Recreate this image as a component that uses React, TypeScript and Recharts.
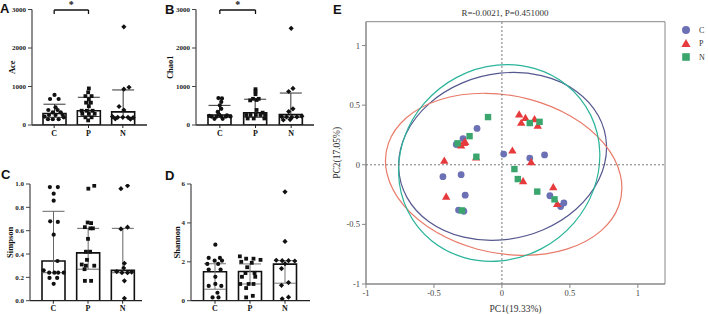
import React from 'react';
import * as RC from 'recharts';
import {
  ComposedChart,
  ScatterChart,
  Bar,
  ErrorBar,
  Scatter,
  XAxis,
  YAxis,
  ReferenceLine,
  ReferenceArea,
  ReferenceDot,
  Customized,
} from 'recharts';

const serif = '"Liberation Serif", "Times New Roman", serif';
const sans = '"Liberation Sans", Arial, sans-serif';

const groups = ['C', 'P', 'N'];

// ---- A: Ace ----
const aceMedian = [300, 370, 340];
const aceLow = [200, 220, 200];
const aceHigh = [540, 720, 910];
const aceC = [780, 675, 675, 460, 390, 390, 330, 330, 260, 260, 260, 150, 150, 150, 200, 220];
const aceCJit = [0.01, -0.12, 0.13, 0.04, -0.17, 0.1, -0.04, 0.19, -0.15, 0.04, 0.25, -0.18, -0.04, 0.13, 0.28, -0.28];
const aceP = [950, 850, 750, 750, 670, 580, 580, 490, 370, 370, 370, 290, 290, 290, 200, 200, 120];
const acePJit = [0.01, -0.01, -0.09, 0.09, 0.01, -0.07, 0.07, 0.01, -0.2, -0.05, 0.12, -0.18, 0.01, 0.18, -0.09, 0.09, -0.01];
const aceN = [2550, 980, 930, 480, 390, 220, 200, 200, 200, 190, 160, 150];
const aceNJit = [0.03, 0.18, 0.03, -0.11, 0.03, -0.3, -0.15, 0.0, 0.15, 0.3, -0.22, 0.22];

// ---- B: Chao1 ----
const chaoMedian = [260, 320, 270];
const chaoLow = [200, 200, 200];
const chaoHigh = [510, 670, 830];
const chaoC = [700, 690, 600, 510, 420, 340, 270, 220, 220, 220, 220, 220, 160, 160, 250, 240];
const chaoCJit = [-0.04, 0.06, 0.04, 0.0, 0.04, -0.06, -0.02, -0.23, -0.09, 0.04, 0.17, 0.3, -0.15, 0.08, 0.2, -0.3];
const chaoP = [930, 870, 800, 680, 680, 650, 640, 390, 320, 260, 260, 260, 260, 260, 170, 170, 170];
const chaoPJit = [0, 0, 0, -0.07, 0.09, 0.03, -0.15, 0.03, 0.2, -0.26, -0.14, 0.01, 0.14, 0.27, -0.22, -0.05, 0.25];
const chaoN = [2510, 950, 870, 420, 350, 220, 210, 200, 210, 230, 130, 140];
const chaoNJit = [0, 0.05, -0.07, 0.05, -0.07, -0.27, -0.13, 0.02, 0.16, 0.3, -0.22, -0.03];

// ---- C: Simpson ----
const simpMedian = [0.34, 0.41, 0.26];
const simpLow = [0.24, 0.27, 0.24];
const simpHigh = [0.766, 0.62, 0.62];
const simpC = [0.974, 0.974, 0.917, 0.857, 0.68, 0.675, 0.566, 0.34, 0.26, 0.24, 0.24, 0.24, 0.24, 0.195, 0.195, 0.145];
const simpCJit = [-0.1, 0.13, 0.01, 0.01, -0.09, 0.13, 0.01, 0.12, -0.28, 0.14, -0.12, 0.03, 0.3, -0.11, 0.11, 0.01];
const simpP = [0.96, 0.985, 0.67, 0.665, 0.63, 0.62, 0.62, 0.53, 0.42, 0.42, 0.35, 0.31, 0.3, 0.3, 0.27, 0.17, 0.17];
const simpPJit = [0.01, 0.18, -0.01, 0.09, -0.09, 0.07, 0.14, 0.0, -0.06, 0.06, -0.03, -0.18, -0.06, 0.18, -0.1, -0.09, 0.09];
const simpN = [0.96, 0.985, 0.615, 0.63, 0.32, 0.28, 0.25, 0.24, 0.24, 0.245, 0.17, 0.02];
const simpNJit = [-0.05, 0.14, -0.05, 0.14, 0.05, 0.03, -0.17, -0.02, 0.14, 0.26, 0.05, 0.05];

// ---- D: Shannon ----
const shanMedian = [1.49, 1.5, 1.88];
const shanLow = [0.59, 0.86, 0.9];
const shanHigh = [1.9, 1.89, 2.06];
const shanC = [2.88, 2.2, 2.2, 2.06, 2.06, 1.89, 1.89, 1.6, 1.6, 1.23, 0.86, 0.76, 0.76, 0.41, 0.17, 0.17];
const shanCJit = [0.01, -0.18, 0.14, -0.01, 0.2, -0.22, 0.09, -0.18, 0.16, 0.01, 0.01, -0.18, 0.18, 0.07, -0.07, 0.1];
const shanP = [2.28, 2.16, 2.16, 2.1, 2.0, 1.95, 1.72, 1.42, 1.42, 1.23, 1.23, 0.86, 0.86, 0.86, 0.65, 0.17, 0.25];
const shanPJit = [-0.29, -0.11, 0.1, 0.3, -0.25, 0.05, -0.08, -0.13, 0.13, -0.23, 0.15, -0.28, -0.04, 0.1, -0.11, -0.11, 0.08];
const shanN = [5.6, 3.05, 2.08, 2.06, 2.06, 2.04, 1.9, 1.65, 0.93, 0.79, 0.18, 0.1];
const shanNJit = [0, 0, -0.25, -0.08, 0.1, 0.28, 0.0, -0.1, 0.1, -0.1, 0.1, -0.08];

// ---- E: PCoA ----
const pcaCX = [-0.183, -0.286, -0.336, 0.013, 0.205, 0.314, -0.434, -0.3, -0.27, -0.319, -0.28, 0.353, 0.456, 0.432];
const pcaCY = [0.305, 0.22, 0.17, 0.09, 0.056, 0.083, -0.1, -0.083, -0.255, -0.38, -0.39, -0.26, -0.32, -0.35];
const pcaPX = [0.127, 0.173, 0.142, 0.24, 0.264, -0.28, -0.27, -0.3, 0.077, -0.424, 0.215, 0.156, 0.378, -0.41, 0.407, -0.19];
const pcaPY = [0.42, 0.39, 0.35, 0.38, 0.325, 0.18, 0.19, 0.16, 0.117, 0.033, 0.02, -0.14, -0.19, -0.27, -0.33, 0.06];
const pcaNX = [-0.102, -0.238, -0.326, -0.188, 0.205, 0.277, 0.092, 0.117, 0.26, 0.387, -0.294];
const pcaNY = [0.4, 0.24, 0.18, 0.067, 0.35, 0.36, -0.036, -0.12, -0.225, -0.29, -0.383];

// confidence ellipses: centre, semi-axes, rotation (deg, data space)
const ellipseCenterX = [0.005, 0.013, -0.02];
const ellipseCenterY = [0.07, -0.08, 0.015];
const ellipseA = [0.783, 0.887, 0.834];
const ellipseB = [0.684, 0.657, 0.73];
const ellipseAngle = [26, -17, 72];

const pcaTicks = [-1, -0.5, 0, 0.5, 1];
const pcaDomain: [number, number] = [-1, 1.2];

const pointColors = ['#6c71b5', '#e63a3c', '#3aa66e'];
const ellipseColors = ['#55588f', '#e87a69', '#2bb49a'];

const sideLabel = (text: string, x: number, size: number, bold: boolean, color: string) => (props: any) => {
  const vb = props.viewBox || {};
  const px = (vb.x ?? 0) + x;
  const cy = (vb.y ?? 0) + (vb.height ?? 0) / 2;
  return (
    <text
      x={px}
      y={cy}
      transform={`rotate(-90 ${px} ${cy})`}
      textAnchor="middle"
      dominantBaseline="central"
      fontFamily={serif}
      fontSize={size}
      fontWeight={bold ? 'bold' : 'normal'}
      fill={color}
    >
      {text}
    </text>
  );
};

const blackCircle = (p: any) => <circle cx={p.cx} cy={p.cy} r={2.1} fill="#111" />;
const blackSquare = (p: any) => <rect x={p.cx - 1.9} y={p.cy - 1.9} width={3.8} height={3.8} fill="#111" />;
const blackDiamond = (p: any) => (
  <polygon points={`${p.cx},${p.cy - 2.6} ${p.cx + 2.6},${p.cy} ${p.cx},${p.cy + 2.6} ${p.cx - 2.6},${p.cy}`} fill="#111" />
);
const dotShapes = [blackCircle, blackSquare, blackDiamond];

type PanelProps = {
  yLabel: string;
  labelX: number;
  left: number;
  top: number;
  width: number;
  height: number;
  axisWidth: number;
  marginTop: number;
  marginRight: number;
  xAxisHeight: number;
  padL: number;
  padR: number;
  yDomain: [number, number];
  yTicks: number[];
  tickFmt?: (v: number) => string;
  median: number[];
  low: number[];
  high: number[];
  dots: number[][];
  jitter: number[][];
  whisker: string;
  bracket?: [number, number, number];
};

function DotPanel(p: PanelProps) {
  const barData = groups.map((g, i) => ({
    name: g,
    value: p.median[i],
    err: [p.median[i] - p.low[i], p.high[i] - p.median[i]],
  }));
  return (
    <div style={{ position: 'absolute', left: p.left, top: p.top }}>
      <ComposedChart
        width={p.width}
        height={p.height}
        data={barData}
        margin={{ top: p.marginTop, right: p.marginRight, bottom: 0, left: 0 }}
      >
        <XAxis
          dataKey="name"
          type="category"
          padding={{ left: p.padL, right: p.padR }}
          height={p.xAxisHeight}
          tickSize={3}
          axisLine={{ stroke: '#222', strokeWidth: 1.3 }}
          tickLine={{ stroke: '#222' }}
          tick={{ fontSize: 8, fontFamily: serif, fontWeight: 'bold', fill: '#111' }}
          interval={0}
        />
        <XAxis
          xAxisId="num"
          dataKey="x"
          type="number"
          domain={[-0.5, 2.5]}
          padding={{ left: p.padL, right: p.padR }}
          allowDataOverflow
          hide
        />
        <YAxis
          width={p.axisWidth}
          domain={p.yDomain}
          ticks={p.yTicks}
          tickFormatter={p.tickFmt}
          tickSize={4}
          allowDataOverflow
          axisLine={{ stroke: '#444', strokeWidth: 1.2 }}
          tickLine={{ stroke: '#444' }}
          tick={{ fontSize: 7, fontFamily: serif, fontWeight: 'bold', fill: '#222' }}
          label={{ content: sideLabel(p.yLabel, p.labelX, 8.5, true, '#111') }}
        />
        <Bar dataKey="value" fill="#fff" stroke="#111" strokeWidth={1.6} barSize={23} isAnimationActive={false}>
          <ErrorBar dataKey="err" width={11} stroke={p.whisker} strokeWidth={1} direction="y" />
        </Bar>
        {groups.map((g, i) => (
          <Scatter
            key={g}
            xAxisId="num"
            dataKey="y"
            data={p.dots[i].map((v, k) => ({ x: i + p.jitter[i][k], y: v }))}
            shape={dotShapes[i]}
            isAnimationActive={false}
          />
        ))}
        {p.bracket && (
          <ReferenceLine
            xAxisId="num"
            segment={[{ x: 0, y: p.bracket[1] }, { x: 0, y: p.bracket[0] }, ]}
            stroke="#111"
            strokeWidth={1.3}
            ifOverflow="visible"
          />
        )}
        {p.bracket && (
          <ReferenceLine
            xAxisId="num"
            segment={[{ x: 0, y: p.bracket[0] }, { x: 1, y: p.bracket[0] }]}
            stroke="#111"
            strokeWidth={1.3}
            ifOverflow="visible"
          />
        )}
        {p.bracket && (
          <ReferenceLine
            xAxisId="num"
            segment={[{ x: 1, y: p.bracket[0] }, { x: 1, y: p.bracket[1] }]}
            stroke="#111"
            strokeWidth={1.3}
            ifOverflow="visible"
          />
        )}
        {p.bracket && (
          <ReferenceDot
            xAxisId="num"
            x={0.5}
            y={p.bracket[2]}
            r={0}
            fill="none"
            stroke="none"
            ifOverflow="visible"
            label={{ value: '*', position: 'center', fontSize: 10, fontFamily: serif, fontWeight: 'bold', fill: '#111' }}
          />
        )}
      </ComposedChart>
    </div>
  );
}

function usePlotBox() {
  const anyR = RC as any;
  if (anyR.usePlotArea) return anyR.usePlotArea();
  const off = anyR.useOffset ? anyR.useOffset() : null;
  return off ? { x: off.left, y: off.top, width: off.width, height: off.height } : null;
}

function EllipseLayer() {
  const box = usePlotBox();
  if (!box) return null;
  const kx = box.width / (pcaDomain[1] - pcaDomain[0]);
  const ky = box.height / (pcaDomain[1] - pcaDomain[0]);
  return (
    <g>
      {groups.map((g, i) => {
        const cx = box.x + (ellipseCenterX[i] - pcaDomain[0]) * kx;
        const cy = box.y + (pcaDomain[1] - ellipseCenterY[i]) * ky;
        return (
          <g key={g} transform={`translate(${cx} ${cy}) scale(${kx} ${-ky}) rotate(${ellipseAngle[i]})`}>
            <ellipse
              rx={ellipseA[i]}
              ry={ellipseB[i]}
              fill="none"
              stroke={ellipseColors[i]}
              strokeWidth={1.2}
              vectorEffect="non-scaling-stroke"
            />
          </g>
        );
      })}
    </g>
  );
}

const pcaCircle = (p: any) => <circle cx={p.cx} cy={p.cy} r={3.4} fill={pointColors[0]} />;
const pcaTriangle = (p: any) => (
  <polygon points={`${p.cx},${p.cy - 4.4} ${p.cx + 4.2},${p.cy + 2.8} ${p.cx - 4.2},${p.cy + 2.8}`} fill={pointColors[1]} />
);
const pcaSquare = (p: any) => <rect x={p.cx - 3.2} y={p.cy - 3.2} width={6.4} height={6.4} fill={pointColors[2]} />;
const pcaShapes = [pcaCircle, pcaTriangle, pcaSquare];

function PcaPanel() {
  const sets = [
    pcaCX.map((x, i) => ({ x, y: pcaCY[i] })),
    pcaPX.map((x, i) => ({ x, y: pcaPY[i] })),
    pcaNX.map((x, i) => ({ x, y: pcaNY[i] })),
  ];
  const tickStyle = { fontSize: 8.5, fontFamily: serif, fill: '#444' };
  return (
    <div style={{ position: 'absolute', left: 320, top: 0 }}>
      <ScatterChart width={388} height={314} margin={{ top: 21.7, right: 43, bottom: 0, left: 0 }}>
        <XAxis
          type="number"
          dataKey="x"
          domain={pcaDomain}
          ticks={pcaTicks}
          height={30}
          tickSize={4}
          allowDataOverflow
          axisLine={{ stroke: '#888' }}
          tickLine={{ stroke: '#888' }}
          tick={tickStyle}
          label={{ value: 'PC1(19.33%)', position: 'insideBottom', offset: 2, fontSize: 9.5, fontFamily: serif, fill: '#333' }}
        />
        <YAxis
          type="number"
          dataKey="y"
          domain={pcaDomain}
          ticks={pcaTicks}
          width={46}
          tickSize={4}
          allowDataOverflow
          axisLine={{ stroke: '#888' }}
          tickLine={{ stroke: '#888' }}
          tick={tickStyle}
          label={{ content: sideLabel('PC2(17.05%)', 17, 9.5, false, '#333') }}
        />
        <ReferenceArea x1={-1} x2={1.2} y1={-1} y2={1.2} fill="none" stroke="#888" strokeWidth={1} />
        <ReferenceLine x={0} stroke="#777" strokeDasharray="2 2" />
        <ReferenceLine y={0} stroke="#777" strokeDasharray="2 2" />
        <Customized component={EllipseLayer} />
        {groups.map((g, i) => (
          <Scatter key={g} name={g} data={sets[i]} shape={pcaShapes[i]} isAnimationActive={false} />
        ))}
      </ScatterChart>
    </div>
  );
}

const letterStyle = (left: number, top: number): React.CSSProperties => ({
  position: 'absolute',
  left,
  top,
  fontFamily: sans,
  fontWeight: 'bold',
  fontSize: 13,
  lineHeight: '13px',
  color: '#111',
});

export default function App() {
  return (
    <div style={{ position: 'absolute', left: 0, top: 0, width: 708, height: 314, background: '#fff', overflow: 'hidden' }}>
      <DotPanel
        yLabel="Ace"
        labelX={12}
        left={0}
        top={0}
        width={150}
        height={145}
        axisWidth={32}
        marginTop={9.5}
        marginRight={3}
        xAxisHeight={20}
        padL={5}
        padR={7}
        yDomain={[0, 3000]}
        yTicks={[0, 1000, 2000, 3000]}
        median={aceMedian}
        low={aceLow}
        high={aceHigh}
        dots={[aceC, aceP, aceN]}
        jitter={[aceCJit, acePJit, aceNJit]}
        whisker="#333"
        bracket={[2987, 2883, 3140]}
      />
      <DotPanel
        yLabel="Chao1"
        labelX={10}
        left={160}
        top={0}
        width={158}
        height={145}
        axisWidth={36}
        marginTop={9.5}
        marginRight={4}
        xAxisHeight={20}
        padL={6}
        padR={5}
        yDomain={[0, 3000]}
        yTicks={[0, 1000, 2000, 3000]}
        median={chaoMedian}
        low={chaoLow}
        high={chaoHigh}
        dots={[chaoC, chaoP, chaoN]}
        jitter={[chaoCJit, chaoPJit, chaoNJit]}
        whisker="#333"
        bracket={[2987, 2883, 3140]}
      />
      <DotPanel
        yLabel="Simpson"
        labelX={10}
        left={0}
        top={160}
        width={150}
        height={154}
        axisWidth={30}
        marginTop={24}
        marginRight={8}
        xAxisHeight={13.3}
        padL={6}
        padR={2}
        yDomain={[0, 1]}
        yTicks={[0, 0.2, 0.4, 0.6, 0.8, 1]}
        tickFmt={(v) => v.toFixed(1)}
        median={simpMedian}
        low={simpLow}
        high={simpHigh}
        dots={[simpC, simpP, simpN]}
        jitter={[simpCJit, simpPJit, simpNJit]}
        whisker="#666"
      />
      <DotPanel
        yLabel="Shannon"
        labelX={17}
        left={160}
        top={160}
        width={158}
        height={154}
        axisWidth={31}
        marginTop={24}
        marginRight={8}
        xAxisHeight={13.3}
        padL={6.5}
        padR={7.5}
        yDomain={[0, 6]}
        yTicks={[0, 2, 4, 6]}
        median={shanMedian}
        low={shanLow}
        high={shanHigh}
        dots={[shanC, shanP, shanN]}
        jitter={[shanCJit, shanPJit, shanNJit]}
        whisker="#777"
      />
      <PcaPanel />

      <div
        style={{
          position: 'absolute',
          left: 355,
          top: 7.5,
          width: 300,
          textAlign: 'center',
          fontFamily: serif,
          fontSize: 9,
          lineHeight: '10px',
          color: '#333',
        }}
      >
        R=-0.0021, P=0.451000
      </div>

      <svg style={{ position: 'absolute', left: 676, top: 20 }} width={32} height={46}>
        {groups.map((g, i) => {
          const cy = 10 + i * 13.5;
          const cx = 10;
          return (
            <g key={g}>
              {i === 0 && <circle cx={cx} cy={cy} r={4} fill={pointColors[0]} />}
              {i === 1 && (
                <polygon points={`${cx},${cy - 4.5} ${cx + 4.6},${cy + 3.4} ${cx - 4.6},${cy + 3.4}`} fill={pointColors[1]} />
              )}
              {i === 2 && <rect x={cx - 3.8} y={cy - 3.8} width={7.6} height={7.6} fill={pointColors[2]} />}
              <text x={cx + 13} y={cy} dominantBaseline="central" fontFamily={serif} fontSize={8} fill="#333">
                {g}
              </text>
            </g>
          );
        })}
      </svg>

      <div style={letterStyle(0, 2)}>A</div>
      <div style={letterStyle(165, 3)}>B</div>
      <div style={letterStyle(1, 168)}>C</div>
      <div style={letterStyle(165, 168.5)}>D</div>
      <div style={letterStyle(333, 3)}>E</div>
    </div>
  );
}
